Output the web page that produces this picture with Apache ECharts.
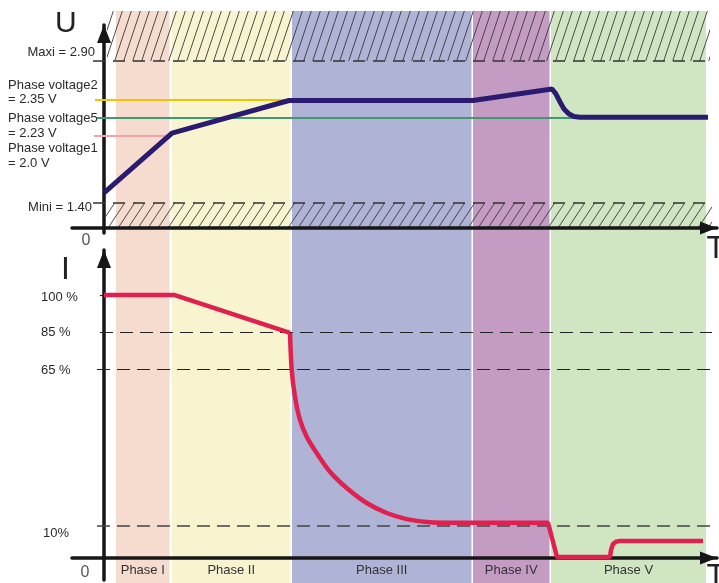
<!DOCTYPE html>
<html><head><meta charset="utf-8">
<script src="https://cdn.jsdelivr.net/npm/echarts@6/dist/echarts.min.js"></script>
<style>html,body{margin:0;padding:0;background:#fff}#c{width:719px;height:583px}</style>
</head><body><div id="c"></div>
<script>
// ---------- data (time T in arbitrary units, 0 = origin) ----------
const phaseNames = ['Phase I', 'Phase II', 'Phase III', 'Phase IV', 'Phase V'];
const phaseStart = [12, 68, 188, 369, 447];
const phaseEnd   = [65.5, 186.5, 367.5, 445.5, 602];

// top chart: voltage U (drawn level)
const voltageT = [0, 68, 185, 369, 448, 452, 456, 460, 465, 470, 476, 604];
const voltageU = [1.506, 2.139, 2.483, 2.483, 2.604, 2.551, 2.467, 2.393, 2.340, 2.314, 2.305, 2.305];
const uMaxi = 2.90, uMini = 1.40;
const uMaxiLabel = 'Maxi = 2.90', uMiniLabel = 'Mini = 1.40';
// phase voltage reference lines: drawn level, start T, end T, label lines
const pvLevel = [2.488, 2.305, 2.115];
const pvFrom  = [-9, -7, -10];
const pvTo    = [186, 602, 68];
const pvName  = ['Phase voltage2', 'Phase voltage5', 'Phase voltage1'];
const pvValue = ['= 2.35 V', '= 2.23 V', '= 2.0 V'];

// bottom chart: current I (drawn level, 100 = nominal)
const currentT = [0, 70, 186, 187.7, 191, 196, 202.7, 212.7, 226, 242.7, 262.7, 282.7, 302.7, 322.7, 340, 444, 453, 506, 507, 509, 512, 516, 599];
const currentI = [100, 100, 85.6, 71.5, 61.3, 52.5, 46.1, 39.9, 32.8, 26.6, 20.9, 17.1, 14.8, 13.7, 13.4, 13.4, 0.4, 0.4, 3, 5.3, 6.2, 6.5, 6.5];
const decayFrom = 2, decayTo = 14;   // indices of the smooth decay part of the current curve
const iLevel  = [100, 86.0, 71.8, 12.3];
const iLabels = ['100 %', '85 %', '65 %', '10%'];
const iFrom   = [-4, -4, -7, -7];

// ---------- styling ----------
const phaseColors = ['#f5dccf', '#f8f4d0', '#afb3d6', '#c49cc3', '#d0e5c1'];
const pvColors = ['#f5c400', '#3f9a72', '#f2a2aa'];
const FONT = '"Liberation Sans", Arial, sans-serif';
const X_MIN = -32, X_MAX = 613;

function hatch(w, dy) {
  const c = document.createElement('canvas');
  c.width = w; c.height = dy;
  const g = c.getContext('2d');
  g.strokeStyle = '#3a3a3a'; g.lineWidth = 0.9;
  for (let k = -1; k <= 1; k++) {
    g.beginPath(); g.moveTo(k * w, dy); g.lineTo(k * w + w, 0); g.stroke();
  }
  return c;
}

const axisArrow = {
  show: true, onZero: false,
  lineStyle: { color: '#161616', width: 3.5 },
  symbol: ['none', 'triangle'], symbolSize: [13, 17], symbolOffset: [0, -8.5]
};
function hiddenAxis(grid, min, max) {
  return { gridIndex: grid, type: 'value', min: min, max: max, show: false };
}
function visibleAxis(grid, min, max, arrow) {
  return {
    gridIndex: grid, type: 'value', min: min, max: max, z: 4,
    axisLine: arrow, axisTick: { show: false }, axisLabel: { show: false }, splitLine: { show: false }
  };
}

const chart = echarts.init(document.getElementById('c'), null, { renderer: 'canvas' });

const bandData = phaseNames.map((n, i) => [
  { xAxis: phaseStart[i], yAxis: 0, name: n, itemStyle: { color: phaseColors[i] } },
  { xAxis: phaseEnd[i], yAxis: 1 }
]);

const topLines = [
  [{ coord: [-11, uMaxi] }, { coord: [602, uMaxi] }],
  [{ coord: [-11, uMini] }, { coord: [608, uMini] }]
].map(d => { d[0].lineStyle = { color: '#333', width: 1.5, type: [12, 8] }; return d; });
pvLevel.forEach((lv, i) => {
  topLines.push([
    { coord: [pvFrom[i], lv], lineStyle: { color: pvColors[i], width: 2, type: 'solid' } },
    { coord: [pvTo[i], lv] }
  ]);
});

const botLines = iLevel.map((lv, i) => {
  const dashed = i > 0;
  return [
    { coord: [iFrom[i], lv], lineStyle: dashed ? { color: i === 3 ? '#444' : '#222', width: i === 3 ? 1.5 : 1.2, type: [13, 7] } : { color: '#222', width: 1.2, type: 'solid' } },
    { coord: [dashed ? 608 : 0, lv] }
  ];
});

const currentPts = currentT.map((t, i) => [t, currentI[i]]);
const redStyle = { color: '#e0204f', width: 4.5 };
function redSeries(pts, smooth) {
  return { type: 'line', xAxisIndex: 3, yAxisIndex: 3, z: 6, symbol: 'none', smooth: smooth,
    lineStyle: redStyle, data: pts };
}

const option = {
  animation: false,
  backgroundColor: '#ffffff',
  grid: [
    { left: 72, width: 645, top: 11, height: 572 },
    { left: 72, width: 645, top: 11, height: 217 },
    { left: 104, width: 10, top: 25, height: 208 },
    { left: 72, width: 645, top: 250, height: 308 },
    { left: 104, width: 10, top: 250, height: 330 }
  ],
  xAxis: [
    hiddenAxis(0, X_MIN, X_MAX),
    visibleAxis(1, X_MIN, X_MAX, axisArrow),
    hiddenAxis(2, 0, 1),
    visibleAxis(3, X_MIN, X_MAX, axisArrow),
    hiddenAxis(4, 0, 1)
  ],
  yAxis: [
    hiddenAxis(0, 0, 1),
    hiddenAxis(1, 1.136, 3.428),
    visibleAxis(2, 0, 1, Object.assign({}, axisArrow, { symbolSize: [14, 18], symbolOffset: [0, -9] })),
    hiddenAxis(3, 0, 117.1),
    visibleAxis(4, 0, 1, Object.assign({}, axisArrow, { symbolSize: [14, 18], symbolOffset: [0, -9] }))
  ],
  series: [
    {
      type: 'line', xAxisIndex: 0, yAxisIndex: 0, data: [], z: 0, silent: true,
      markArea: {
        silent: true,
        label: { show: true, position: 'insideBottom', distance: 6, color: '#333', fontSize: 13, fontFamily: FONT },
        data: bandData
      }
    },
    {
      type: 'line', xAxisIndex: 1, yAxisIndex: 1, data: [], z: 1, silent: true,
      markArea: {
        silent: true,
        data: [
          [{ xAxis: 3, yAxis: uMaxi, itemStyle: { color: { image: hatch(9, 27), repeat: 'repeat' } } }, { xAxis: 606, yAxis: 3.428 }],
          [{ xAxis: 2, yAxis: 1.136, itemStyle: { color: { image: hatch(10, 15), repeat: 'repeat' } } }, { xAxis: 608, yAxis: uMini }]
        ]
      },
      markLine: { silent: true, symbol: ['none', 'none'], label: { show: false }, data: topLines }
    },
    {
      type: 'line', xAxisIndex: 3, yAxisIndex: 3, data: [], z: 1, silent: true,
      markLine: { silent: true, symbol: ['none', 'none'], label: { show: false }, data: botLines }
    },
    {
      type: 'line', xAxisIndex: 1, yAxisIndex: 1, z: 6, symbol: 'none',
      lineStyle: { color: '#2a1b70', width: 5 },
      data: voltageT.map((t, i) => [t, voltageU[i]])
    },
    redSeries(currentPts.slice(0, decayFrom + 1), false),
    redSeries(currentPts.slice(decayFrom, decayTo + 1), 0.3),
    redSeries(currentPts.slice(decayTo), false)
  ]
};
chart.setOption(option);

function txt(text, x, y, size, align, color) {
  return {
    type: 'text', x: x, y: y, z: 10, silent: true,
    style: { text: text, font: size + 'px ' + FONT, fill: color || '#2a2a2a',
      textAlign: align || 'left', align: align || 'left', textVerticalAlign: 'middle', verticalAlign: 'middle' }
  };
}
const g = [
  txt('U', 55, 24, 30, 'left', '#222'),
  txt('I', 65.5, 270.5, 32, 'center', '#222'),
  txt('T', 716, 249, 31, 'center', '#222'),
  txt('T', 716, 577, 31, 'center', '#222'),
  txt('0', 86, 241, 16, 'center', '#555'),
  txt('0', 85, 573, 16, 'center', '#555'),
  txt(uMaxiLabel, 95, 52, 13, 'right'),
  txt(uMiniLabel, 92, 207, 13, 'right')
];
const pvNameY = [85, 118, 148.5], pvValY = [99.5, 133, 163];
pvName.forEach((n, i) => { g.push(txt(n, 8, pvNameY[i], 13)); g.push(txt(pvValue[i], 8, pvValY[i], 13)); });
const iLabY = [297, 332.5, 370, 533], iLabX = [41, 41, 41, 43];
iLabels.forEach((l, i) => g.push(txt(l, iLabX[i], iLabY[i], 13)));
chart.setOption({ graphic: { elements: g } });
</script>
</body></html>
